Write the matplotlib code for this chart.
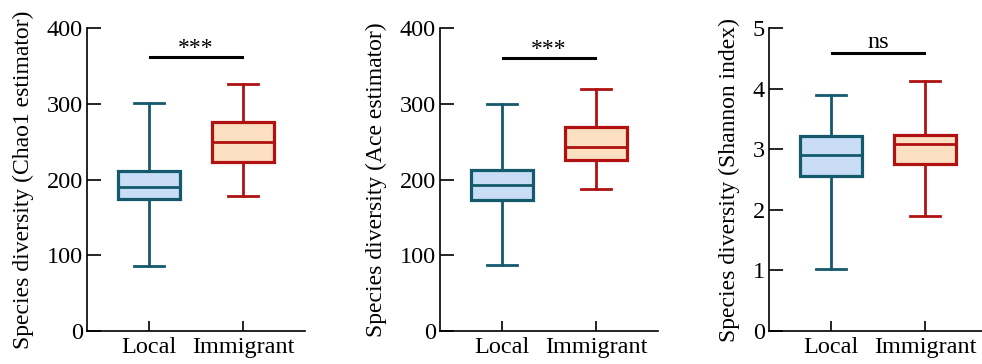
import matplotlib
matplotlib.use("Agg")
import matplotlib.pyplot as plt

plt.rcParams['font.family'] = ['Liberation Serif', 'DejaVu Serif']
plt.rcParams['mathtext.fontset'] = 'stix'

groups = ["Local", "Immigrant"]
ylabels = ["Species diversity (Chao1 estimator)",
           "Species diversity (Ace estimator)",
           "Species diversity (Shannon index)"]

# box stats: (whislo, q1, med, q3, whishi)
chao1_local = [86, 174, 190, 211, 301]
chao1_immig = [178, 223, 250, 276, 326]
ace_local = [87, 173, 193, 213, 300]
ace_immig = [188, 226, 243, 269, 319]
shannon_local = [1.02, 2.55, 2.91, 3.22, 3.90]
shannon_immig = [1.90, 2.76, 3.08, 3.23, 4.13]

sig_labels = ["***", "***", "ns"]
sig_heights = [362, 361, 4.59]
ylims = [(0, 400), (0, 400), (0, 5)]
yticks = [[0, 100, 200, 300, 400], [0, 100, 200, 300, 400], [0, 1, 2, 3, 4, 5]]

panels = [(chao1_local, chao1_immig), (ace_local, ace_immig), (shannon_local, shannon_immig)]

edge_colors = ["#145a6c", "#b01212"]
fill_colors = ["#c9ddf7", "#fde0c2"]

fig = plt.figure(figsize=(9.82, 3.64), dpi=100)
lefts = [87, 440, 769]
axw = 218
for i, (loc, imm) in enumerate(panels):
    ax = fig.add_axes([lefts[i] / 982, 33 / 364, axw / 982, 303 / 364])
    for j, st in enumerate([loc, imm]):
        stats = [dict(whislo=st[0], q1=st[1], med=st[2], q3=st[3], whishi=st[4], fliers=[])]
        ec = edge_colors[j]
        ax.bxp(stats, positions=[j + 1], widths=0.65, capwidths=0.32,
               patch_artist=True, showfliers=False,
               boxprops=dict(facecolor=fill_colors[j], edgecolor=ec, linewidth=2.3),
               medianprops=dict(color=ec, linewidth=2.0),
               whiskerprops=dict(color=ec, linewidth=2.0),
               capprops=dict(color=ec, linewidth=2.0))
    ax.set_xlim(0.34, 2.66)
    ax.set_ylim(*ylims[i])
    ax.set_yticks(yticks[i])
    ax.set_xticks([1, 2])
    ax.set_xticklabels(groups)
    ax.spines['top'].set_visible(False)
    ax.spines['right'].set_visible(False)
    ax.spines['left'].set_linewidth(1.2)
    ax.spines['bottom'].set_linewidth(1.2)
    ax.tick_params(axis='both', direction='in', labelsize=17.5, width=1.2)
    ax.tick_params(axis='y', length=10, pad=3)
    ax.tick_params(axis='x', length=7, pad=4)
    ax.set_ylabel(ylabels[i], fontsize=17, labelpad=9)
    h = sig_heights[i]
    ax.plot([1.01, 1.99], [h, h], color='black', linewidth=2.2, clip_on=False)
    yr = ylims[i][1] - ylims[i][0]
    if sig_labels[i] == "ns":
        ax.text(1.5, h + yr * 0.0, "ns", ha='center', va='bottom', fontsize=17.5)
    else:
        ax.text(1.5, h - yr * 0.008, "***", ha='center', va='bottom', fontsize=17)

fig.savefig("out.png", dpi=100)
